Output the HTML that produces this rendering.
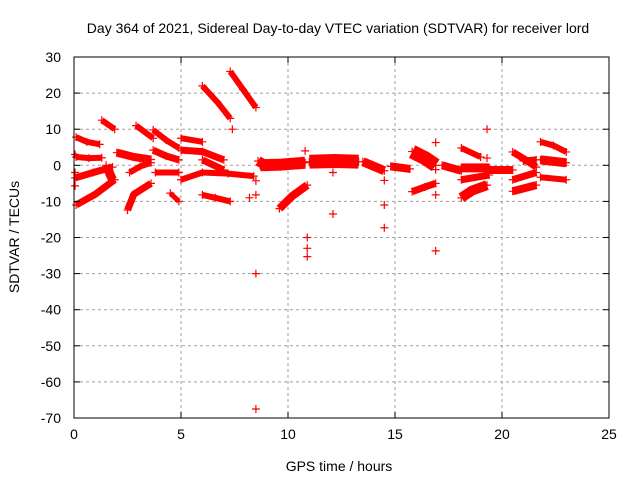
<!DOCTYPE html>
<html><head><meta charset="utf-8"><style>
body{margin:0;background:#fff}
svg text{font-family:"Liberation Sans",sans-serif;font-size:14px;fill:#000}
</style></head><body>
<svg id="c" width="640" height="480">
<text x="338" y="33" text-anchor="middle">Day 364 of 2021, Sidereal Day-to-day VTEC variation (SDTVAR) for receiver lord</text>
<text x="339" y="471" text-anchor="middle">GPS time / hours</text>
<text transform="translate(19,237) rotate(-90)" text-anchor="middle">SDTVAR / TECUs</text>
<g id="grid"></g><g id="marks"></g><g id="axes"></g>
</svg>
<script>
const xTicks=[0,5,10,15,20,25];
const yTicks=[30,20,10,0,-10,-20,-30,-40,-50,-60,-70];
// arcs: [t (hours), SDTVAR (TECU)] points; widths in px
const arcs=[
[[0.1,7.8],[0.6,6.5],[1.2,5.8]],
[[0.1,2.3],[0.7,2.0],[1.3,2.1]],
[[0.05,-3.5],[0.9,-2],[1.8,-0.5]],
[[0.1,-11],[1,-8],[1.9,-4]],
[[1.3,12.5],[1.9,10]],
[[1.5,0],[1.8,-4]],
[[2.0,3.5],[2.8,2.3],[3.6,1.6]],
[[2.5,-12.4],[2.8,-8],[3.6,-5]],
[[2.6,-2],[3.1,-0.3],[3.6,0.7]],
[[2.9,11],[3.7,7.5]],
[[3.7,9.8],[4.3,7],[4.9,4.8]],
[[3.7,4.2],[4.3,2.6],[4.9,1.5]],
[[3.8,-2],[4.9,-2]],
[[4.5,-7.7],[4.9,-10]],
[[5.0,7.5],[6.0,6.5]],
[[5.0,4.2],[6.0,3.8],[7.0,1.5]],
[[5.0,-4],[6.0,-2],[7.2,-2.3],[8.4,-3]],
[[6.0,1.5],[7.0,-1.3]],
[[6.0,-8.2],[6.6,-9],[7.3,-10]],
[[6.0,22],[6.7,17.5],[7.3,13]],
[[7.3,26],[7.9,21],[8.5,16]],
[[7.4,10]],[[8.2,-9]],
[[8.6,1.2],[9.1,-0.5]],
[[8.7,0],[9.7,0.2],[10.8,0.7]],
[[9.6,-12],[10.2,-8.5],[10.9,-5.5]],
[[11.0,1],[12.2,1.2],[13.3,1]],
[[13.5,1],[14.5,-1.5]],
[[14.8,-0.3],[15.7,-1]],
[[15.8,3.8],[16.4,2],[16.9,0]],
[[15.8,-7.3],[16.4,-6],[16.9,-5]],
[[17.2,0],[18.1,-1.5]],
[[18.1,4.8],[19.0,2.3]],
[[18.1,-0.7],[19.4,-0.7]],
[[18.1,-4],[19.4,-2.7]],
[[18.1,-9],[18.6,-7],[19.3,-5.5]],
[[19.4,-1.3],[20.5,-1.3]],
[[20.5,3.7],[21.1,1.5],[21.6,-0.5]],
[[20.5,-7.2],[21.6,-5.5]],
[[20.5,-4],[21.6,-2]],
[[21.0,1.2],[21.6,1.5]],
[[21.8,6.5],[22.4,5.5],[23.0,3.7]],
[[21.8,1.5],[23.0,0.7]],
[[21.8,-3.3],[23.0,-4]]
];
const arcWidths=[6,6,7,7,6,9,8,7,6,6,6,7,6,5,6,7,6,7,6,6,6,4,4,10,12,8,14,9,8,14,7,8,6,9,7,10,8,7,8,7,7,6,9,6];
const singles=[[8.5,-30],[8.5,-67.5],[10.9,-20],[10.9,-23],[10.9,-25.3],[12.1,-13.5],[14.5,-4.2],[14.5,-11],[14.5,-17.3],[16.9,6.3],[16.9,-8.2],[16.9,-23.7],[19.3,10],[8.5,-4.3],[8.5,-8.2],[0.05,3],[0.05,-2],[0.05,-5.7],[10.8,4],[12.1,-2],[16.9,-1.2],[19.3,2]];
const X0=74,X1=609,Y0=57,Y1=418;
const sx=t=>X0+(t-0)/(25-0)*(X1-X0);
const sy=v=>Y0+(30-v)/(30-(-70))*(Y1-Y0);
const NS="http://www.w3.org/2000/svg";
function mk(tag,at,parent){const e=document.createElementNS(NS,tag);for(const k in at)e.setAttribute(k,at[k]);parent.appendChild(e);return e;}
const grid=document.getElementById('grid'),marks=document.getElementById('marks'),axes=document.getElementById('axes');
xTicks.forEach(t=>{
 if(t>0&&t<25){const g=mk('line',{x1:sx(t),x2:sx(t),y1:Y0,y2:Y1,stroke:'#a0a0a0','stroke-dasharray':'3,3'},grid);
 
 }
 const l=mk('text',{x:sx(t),y:Y1+21,'text-anchor':'middle'},axes);l.textContent=t;
 
 
 mk('line',{x1:sx(t),x2:sx(t),y1:Y1,y2:Y1-6,stroke:'#000'},axes);
 mk('line',{x1:sx(t),x2:sx(t),y1:Y0,y2:Y0+6,stroke:'#000'},axes);
});
yTicks.forEach(v=>{
 if(v<30&&v>-70){const g=mk('line',{x1:X0,x2:X1,y1:sy(v),y2:sy(v),stroke:'#a0a0a0','stroke-dasharray':'3,3'},grid);
 
 }
 const l=mk('text',{x:X0-13,y:sy(v)+5,'text-anchor':'end'},axes);l.textContent=v;
 
 
 mk('line',{x1:X0,x2:X0+6,y1:sy(v),y2:sy(v),stroke:'#000'},axes);
 mk('line',{x1:X1,x2:X1-6,y1:sy(v),y2:sy(v),stroke:'#000'},axes);
});
const fr=mk('rect',{x:X0,y:Y0,width:X1-X0,height:Y1-Y0,fill:'none',stroke:'#000'},axes);


function plus(t,v,name){const g=mk('path',{d:`M${sx(t)-4},${sy(v)}h8M${sx(t)},${sy(v)-4}v8`,stroke:'#f00','stroke-width':1.2},marks);
 
 }
arcs.forEach((a,i)=>{
 const p=mk('polyline',{points:a.map(d=>sx(d[0])+','+sy(d[1])).join(' '),fill:'none',stroke:'#f00','stroke-width':arcWidths[i],'stroke-linecap':'butt','stroke-linejoin':'round'},marks);
 
 
 a.forEach(d=>plus(d[0],d[1],'sdtvar-point'));
});
singles.forEach(d=>plus(d[0],d[1],'sdtvar-outlier'));
</script>
</body></html>
